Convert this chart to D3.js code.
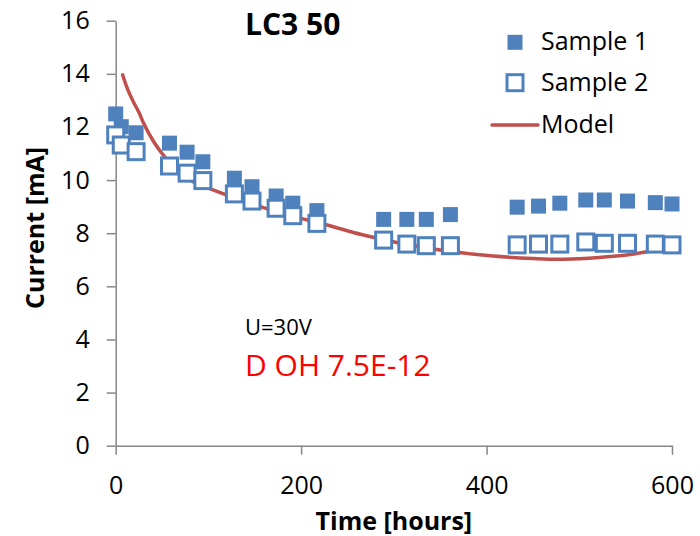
<!DOCTYPE html>
<html>
<head>
<meta charset="utf-8">
<script src="https://cdn.jsdelivr.net/npm/d3@7/dist/d3.min.js"></script>
<style>
  html, body { margin: 0; padding: 0; background: #fff; }
  svg { display: block; }
  text { font-family: "Open Sans", "Liberation Sans", sans-serif; fill: #000; }
</style>
</head>
<body>
<svg id="chart" width="700" height="536"></svg>
<script>
// Measurement times (hours)
const times = [0, 6, 22, 58, 77, 94, 128, 147, 173, 191, 217, 289, 314, 335, 361, 433, 456, 479, 507, 527, 552, 582, 600];
// Measured current, Sample 1 (mA)
const sample1 = [12.49, 12.01, 11.78, 11.39, 11.05, 10.69, 10.07, 9.75, 9.40, 9.13, 8.85, 8.52, 8.52, 8.52, 8.70, 8.98, 9.02, 9.13, 9.25, 9.25, 9.21, 9.15, 9.10];
// Measured current, Sample 2 (mA)
const sample2 = [11.70, 11.32, 11.07, 10.53, 10.26, 9.98, 9.48, 9.21, 8.94, 8.66, 8.37, 7.74, 7.59, 7.53, 7.53, 7.56, 7.59, 7.59, 7.67, 7.62, 7.62, 7.59, 7.56];
// Model curve
const modelTimes = [7.5, 12, 19, 25, 30, 40, 50, 65, 80, 105, 145, 185, 228, 265, 307, 350, 407, 450, 476, 510, 533, 555, 573, 590];
const modelCurrent = [13.96, 13.5, 12.95, 12.55, 12.15, 11.5, 11.0, 10.4, 10.0, 9.63, 9.13, 8.69, 8.31, 7.95, 7.62, 7.37, 7.14, 7.05, 7.02, 7.06, 7.12, 7.2, 7.3, 7.42];
// Axis ticks
const xTicks = [0, 200, 400, 600];
const yTicks = [0, 2, 4, 6, 8, 10, 12, 14, 16];
const seriesNames = ["Sample 1", "Sample 2", "Model"];

const svg = d3.select("#chart");
const plot = { left: 115.7, right: 672, top: 20.7, bottom: 445.7 };
const axisColor = "#868686";
const blue = "#4F81BD", red = "#C0504D";

const x = d3.scaleLinear().domain([0, 600]).range([plot.left, plot.right]);
const y = d3.scaleLinear().domain([0, 16]).range([plot.bottom, plot.top]);

// Model line (drawn underneath the markers)
const line = d3.line().x(d => x(d[0])).y(d => y(d[1])).curve(d3.curveMonotoneX);
svg.append("path")
  .datum(modelTimes.map((t, i) => [t, modelCurrent[i]]))
  .attr("d", line)
  .attr("fill", "none")
  .attr("stroke", red)
  .attr("stroke-width", 3.5)
  .attr("stroke-linecap", "round");

// Axes
const xAxis = svg.append("g")
  .attr("transform", `translate(0,${plot.bottom})`)
  .call(d3.axisBottom(x).tickValues(xTicks).tickSizeInner(9).tickSizeOuter(0).tickPadding(22));
const yAxis = svg.append("g")
  .attr("transform", `translate(${plot.left},0)`)
  .call(d3.axisLeft(y).tickValues(yTicks).tickSizeInner(9).tickSizeOuter(0).tickPadding(17));
[xAxis, yAxis].forEach(g => {
  g.select(".domain").attr("stroke", axisColor).attr("stroke-width", 1.5);
  g.selectAll(".tick line").attr("stroke", axisColor).attr("stroke-width", 1.5);
  g.selectAll(".tick text").attr("font-size", 25).attr("fill", "#000")
    .style("font-family", '"Open Sans", sans-serif');
});

// Sample 1: filled squares
const s1 = 15;
svg.append("g").selectAll("rect")
  .data(times.map((t, i) => [t, sample1[i]]))
  .join("rect")
  .attr("x", d => x(d[0]) - s1 / 2)
  .attr("y", d => y(d[1]) - s1 / 2)
  .attr("width", s1).attr("height", s1)
  .attr("fill", blue);

// Sample 2: hollow squares
const s2 = 16;
svg.append("g").selectAll("rect")
  .data(times.map((t, i) => [t, sample2[i]]))
  .join("rect")
  .attr("x", d => x(d[0]) - s2 / 2)
  .attr("y", d => y(d[1]) - s2 / 2)
  .attr("width", s2).attr("height", s2)
  .attr("fill", "#fff")
  .attr("stroke", blue)
  .attr("stroke-width", 3);

// Title
svg.append("text").attr("x", 245).attr("y", 35)
  .attr("font-size", 30).attr("font-weight", "bold").text("LC3 50");

// Axis titles
svg.append("text").attr("x", (plot.left + plot.right) / 2).attr("y", 530)
  .attr("text-anchor", "middle").attr("font-size", 25).attr("font-weight", "bold")
  .text("Time [hours]");
svg.append("text")
  .attr("transform", "translate(44,228) rotate(-90)")
  .attr("text-anchor", "middle").attr("font-size", 25).attr("font-weight", "bold")
  .text("Current [mA]");

// Annotations
svg.append("text").attr("x", 245).attr("y", 335).attr("font-size", 22).text("U=30V");
svg.append("text").attr("x", 245).attr("y", 376).attr("font-size", 30)
  .style("fill", "#FF0000").text("D OH 7.5E-12");

// Legend
const lg = svg.append("g");
const lx = 515, ly = [42.3, 82.7, 125];
lg.append("rect").attr("x", lx - 7.5).attr("y", ly[0] - 7.5).attr("width", 15).attr("height", 15).attr("fill", blue);
lg.append("rect").attr("x", lx - 8).attr("y", ly[1] - 8).attr("width", 16).attr("height", 16)
  .attr("fill", "#fff").attr("stroke", blue).attr("stroke-width", 3);
lg.append("line").attr("x1", 492).attr("x2", 538).attr("y1", ly[2]).attr("y2", ly[2])
  .attr("stroke", red).attr("stroke-width", 3.5).attr("stroke-linecap", "round");
lg.selectAll("text.leg").data(seriesNames).join("text")
  .attr("class", "leg")
  .attr("x", 541).attr("y", (d, i) => ly[i] + 8)
  .attr("font-size", 25).text(d => d);
</script>
</body>
</html>
